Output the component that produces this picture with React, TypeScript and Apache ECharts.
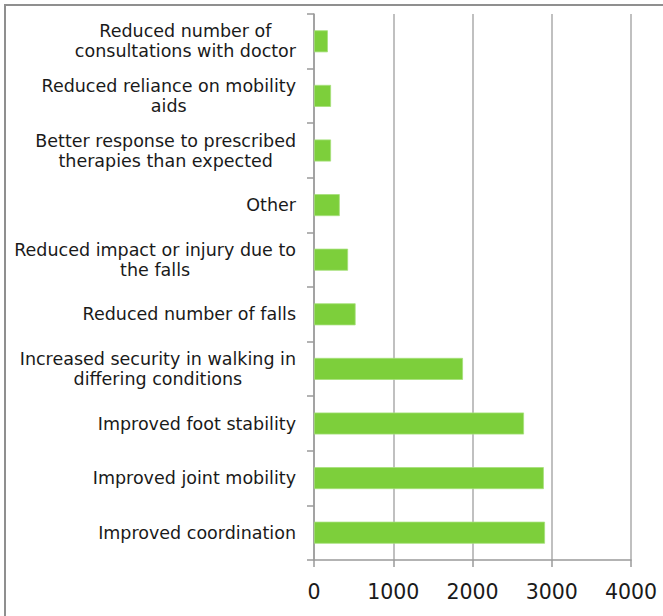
import React, { useEffect, useRef } from "react";
import * as echarts from "echarts";

const categories = [
  ["Reduced number of", "consultations with doctor"],
  ["Reduced reliance on mobility", "aids"],
  ["Better response to prescribed", "therapies than expected"],
  ["Other"],
  ["Reduced impact or injury due to", "the falls"],
  ["Reduced number of falls"],
  ["Increased security in walking in", "differing conditions"],
  ["Improved foot stability"],
  ["Improved joint mobility"],
  ["Improved coordination"],
];
const values = [175, 215, 215, 325, 430, 525, 1880, 2650, 2900, 2915];
const xTicks = [0, 1000, 2000, 3000, 4000];

export default function App() {
  const ref = useRef<HTMLDivElement>(null);
  useEffect(() => {
    const chart = echarts.init(ref.current!, null, { renderer: "svg" });
    const names = categories.map((c) => c.join("\n"));
    chart.setOption({
      animation: false,
      backgroundColor: "#ffffff",
      graphic: [
        {
          type: "rect",
          shape: { x: 5, y: 5, width: 700, height: 700 },
          style: { fill: "none", stroke: "#8f8f8f", lineWidth: 2 },
          z: 100,
        },
      ],
      grid: { left: 314, right: 32, top: 14, bottom: 56, containLabel: false },
      xAxis: {
        type: "value",
        min: xTicks[0],
        max: xTicks[xTicks.length - 1],
        interval: 1000,
        axisLine: { show: true, lineStyle: { color: "#9a9a9a", width: 1.5 } },
        axisTick: { show: true, length: 7, lineStyle: { color: "#9a9a9a", width: 1.5 } },
        splitLine: { show: true, lineStyle: { color: "#ababab", width: 1.5 } },
        axisLabel: {
          margin: 21,
          fontFamily: "DejaVu Sans",
          fontSize: 20.5,
          color: "#1a1a1a",
          formatter: (v: number) => String(v),
        },
      },
      yAxis: {
        type: "category",
        inverse: true,
        data: names,
        axisLine: { show: true, lineStyle: { color: "#9a9a9a", width: 1.5 } },
        axisTick: { show: true, length: 7, lineStyle: { color: "#9a9a9a", width: 1.5 } },
        axisLabel: {
          margin: 18,
          fontFamily: "DejaVu Sans",
          fontSize: 17.5,
          color: "#1a1a1a",
          lineHeight: 20,
          formatter: (v: string) =>
            v
              .split("\n")
              .map((l) => "{c|" + l + "}")
              .join("\n"),
          rich: {
            c: {
              align: "center",
              fontFamily: "DejaVu Sans",
              fontSize: 17.5,
              lineHeight: 20,
              color: "#1a1a1a",
            },
          },
        },
      },
      series: [
        {
          type: "bar",
          data: values,
          barWidth: 22,
          itemStyle: { color: "#7dcf3b", borderColor: "#a6e07a", borderWidth: 0.8 },
        },
      ],
    });
    return () => chart.dispose();
  }, []);
  return (
    <div
      ref={ref}
      style={{ position: "absolute", left: 0, top: 0, width: 663, height: 616 }}
    />
  );
}
